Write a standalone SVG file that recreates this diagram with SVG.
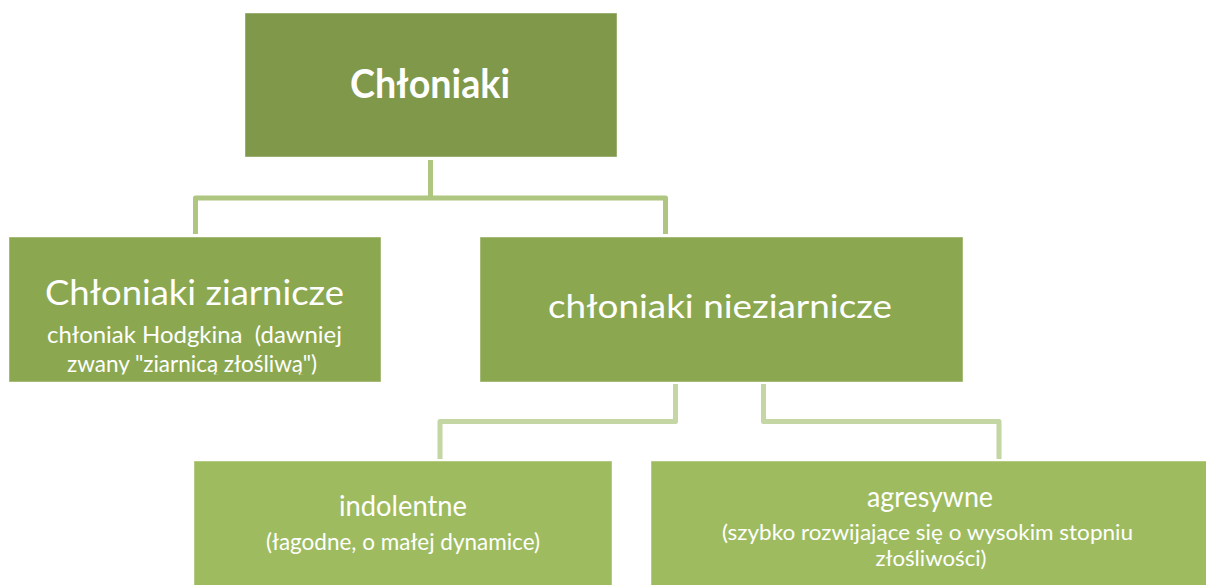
<svg xmlns="http://www.w3.org/2000/svg" width="1206" height="585" viewBox="0 0 1206 585">
<style>
.box{stroke:#ffffff;stroke-opacity:0.45;stroke-width:1}
.l0{fill:#7F984A}
.l1{fill:#8BA850}
.l2{fill:#9EBC5F}
.t{font-family:Lato,"Open Sans","Liberation Sans",sans-serif;fill:#ffffff;text-anchor:middle;white-space:pre}
.c1{fill:none;stroke:#AEC67F;stroke-width:5;stroke-linejoin:round}
.c2{fill:none;stroke:#C3D6A4;stroke-width:5;stroke-linejoin:round}
</style>
<defs>
<clipPath id="clipL"><rect x="9" y="237" width="372" height="137.5"/></clipPath>
</defs>
<rect width="1206" height="585" fill="#ffffff"/>
<g id="connectors">
<path class="c1" d="M430.5 160 V198 M195.5 234 V198 H665.5 V234"/>
<path class="c2" d="M675.5 384 V421.5 H440 V459"/>
<path class="c2" d="M763.5 384 V421.5 H999 V459"/>
</g>
<g id="node-root">
<rect class="box l0" x="245" y="13" width="372" height="144"/>
<text class="t" x="430" y="98" font-size="40" font-weight="bold" textLength="160" lengthAdjust="spacingAndGlyphs">Chłoniaki</text>
</g>
<g id="node-ziarnicze">
<rect class="box l1" x="9" y="237" width="372" height="145"/>
<g clip-path="url(#clipL)">
<text class="t" x="194.5" y="305" font-size="34" textLength="299" lengthAdjust="spacingAndGlyphs">Chłoniaki ziarnicze</text>
<text class="t" x="194.5" y="343" font-size="23" textLength="295" lengthAdjust="spacingAndGlyphs">chłoniak Hodgkina  (dawniej</text>
<text class="t" x="192" y="372" font-size="23" textLength="250" lengthAdjust="spacingAndGlyphs">zwany "ziarnicą złośliwą")</text>
</g>
</g>
<g id="node-nieziarnicze">
<rect class="box l1" x="480" y="237" width="483" height="145"/>
<text class="t" x="720" y="318" font-size="32" textLength="344" lengthAdjust="spacingAndGlyphs">chłoniaki nieziarnicze</text>
</g>
<g id="node-indolentne">
<rect class="box l2" x="194" y="461" width="418" height="130"/>
<text class="t" x="403" y="516" font-size="28" textLength="128" lengthAdjust="spacingAndGlyphs">indolentne</text>
<text class="t" x="403" y="550" font-size="23" textLength="274" lengthAdjust="spacingAndGlyphs">(łagodne, o małej dynamice)</text>
</g>
<g id="node-agresywne">
<rect class="box l2" x="651" y="461" width="560" height="130"/>
<text class="t" x="930" y="507" font-size="28" textLength="126" lengthAdjust="spacingAndGlyphs">agresywne</text>
<text class="t" x="927.5" y="540" font-size="21" textLength="411" lengthAdjust="spacingAndGlyphs">(szybko rozwijające się o wysokim stopniu</text>
<text class="t" x="931" y="566" font-size="21" textLength="111" lengthAdjust="spacingAndGlyphs">złośliwości)</text>
</g>
</svg>
